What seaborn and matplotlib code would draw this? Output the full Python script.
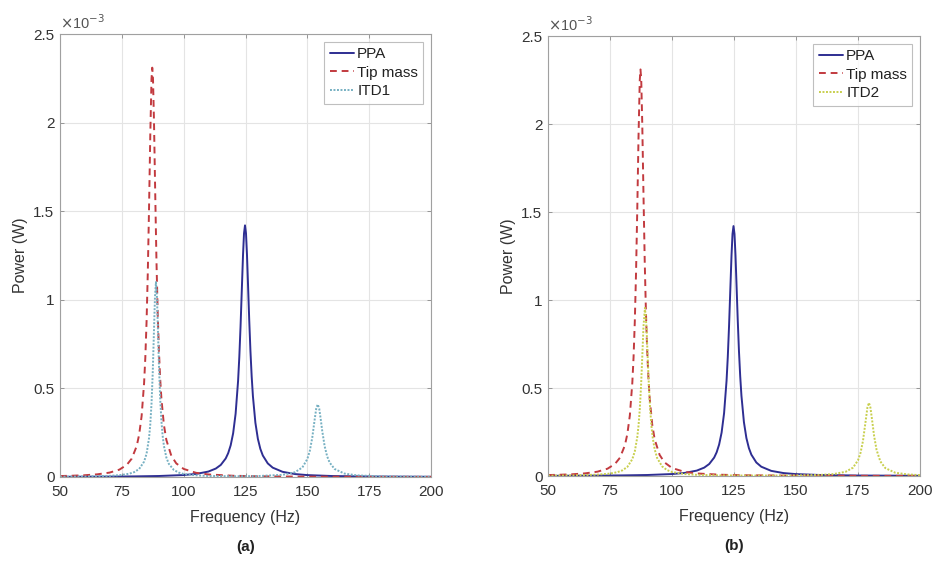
import matplotlib
matplotlib.use("Agg")
import matplotlib.pyplot as plt
import seaborn as sns
import pandas as pd

# ---------------- data (power in units of 1e-3 W) ----------------
tip_freq = [50, 55, 60, 65, 70, 74, 77, 79, 81, 82, 83, 84, 84.5, 85, 85.5, 86, 86.5, 87,
            87.3, 87.6, 88, 88.5, 89, 89.5, 90, 90.5, 91, 92, 93, 95, 97, 100, 105, 110,
            120, 130, 150, 175, 200]
tip_power = [0.0054, 0.0072, 0.0100, 0.0150, 0.0247, 0.0415, 0.0685, 0.1036, 0.174, 0.239,
             0.344, 0.530, 0.675, 0.877, 1.155, 1.518, 1.928, 2.247, 2.31, 2.247, 2.007,
             1.600, 1.221, 0.926, 0.711, 0.555, 0.442, 0.295, 0.209, 0.120, 0.0769, 0.0455,
             0.0236, 0.0144, 0.0070, 0.0041, 0.0019, 0.00097, 0.00059]

ppa_freq = [50, 60, 70, 80, 90, 100, 105, 110, 113, 115, 117, 118, 119, 120, 121, 122, 122.5,
            123, 123.5, 124, 124.4, 124.8, 125.2, 125.6, 126, 126.5, 127, 127.5, 128, 129,
            130, 131, 132, 134, 136, 140, 145, 150, 160, 175, 200]
ppa_power = [0.00123, 0.00164, 0.00228, 0.00342, 0.00565, 0.0111, 0.0173, 0.0307, 0.0477,
             0.0681, 0.1046, 0.1346, 0.1786, 0.2465, 0.357, 0.542, 0.678, 0.851, 1.053, 1.254,
             1.375, 1.42, 1.375, 1.254, 1.094, 0.889, 0.710, 0.567, 0.456, 0.306, 0.2156,
             0.1588, 0.1213, 0.0768, 0.0528, 0.0292, 0.0166, 0.0107, 0.00552, 0.00272, 0.00122]

itd1_freq = [50, 60, 70, 75, 78, 80, 82, 84, 85, 86, 86.5, 87, 87.5, 88, 88.4, 88.8, 89.2,
             89.6, 90, 90.5, 91, 91.5, 92, 93, 94, 96, 98, 100, 105, 110, 120, 130, 140, 145,
             148, 150, 151, 152, 153, 153.6, 154.2, 154.8, 155.4, 156, 157, 158, 159, 161,
             165, 170, 180, 200]
itd1_power = [0.0017, 0.0029, 0.0064, 0.0116, 0.0186, 0.0276, 0.0452, 0.0867, 0.1314, 0.22,
              0.297, 0.415, 0.591, 0.829, 1.017, 1.10, 1.017, 0.829, 0.634, 0.445, 0.317,
              0.233, 0.177, 0.110, 0.0743, 0.0401, 0.0249, 0.0169, 0.0092, 0.0060, 0.0042,
              0.0053, 0.0122, 0.0268, 0.0540, 0.1015, 0.1476, 0.2228, 0.328, 0.386, 0.41,
              0.386, 0.328, 0.2624, 0.1737, 0.1169, 0.082, 0.0454, 0.0193, 0.0093, 0.0035,
              0.0011]

itd2_freq = [50, 60, 70, 75, 78, 80, 82, 84, 85, 86, 86.5, 87, 87.5, 88, 88.5, 89.1, 89.7,
             90.2, 90.7, 91.2, 91.7, 92.2, 93, 94, 96, 98, 100, 105, 110, 120, 130, 140, 150,
             160, 165, 170, 173, 175, 176, 177, 178, 178.8, 179.4, 180, 180.6, 181.5, 182.5,
             184, 186, 190, 195, 200]
itd2_power = [0.0019, 0.0034, 0.0077, 0.0139, 0.0219, 0.0322, 0.0518, 0.0955, 0.140, 0.2208,
              0.286, 0.378, 0.506, 0.673, 0.849, 0.955, 0.849, 0.673, 0.506, 0.378, 0.286,
              0.221, 0.1525, 0.1026, 0.0547, 0.0336, 0.0227, 0.0112, 0.0068, 0.0035, 0.0025,
              0.0025, 0.0032, 0.0064, 0.0108, 0.0239, 0.0476, 0.0893, 0.1306, 0.199, 0.3035,
              0.3895, 0.416, 0.3895, 0.327, 0.2269, 0.1477, 0.0832, 0.0451, 0.0187, 0.0089,
              0.0051]

x_ticks = [50, 75, 100, 125, 150, 175, 200]
y_ticks = [0, 0.5, 1, 1.5, 2, 2.5]
y_ticklabels = ["0", "0.5", "1", "1.5", "2", "2.5"]
panel_labels = ["(a)", "(b)"]
itd_names = ["ITD1", "ITD2"]

# ---------------- style ----------------
sns.set_theme(style="white")
plt.rcParams["font.family"] = ["Liberation Sans", "DejaVu Sans"]

c_ppa = "#2e2e92"
c_tip = "#c23a3f"
c_itd = ["#76b0c2", "#c8cf4e"]

fig = plt.figure(figsize=(9.33, 5.62), dpi=100)
axes_rects = [[60 / 933, 85 / 562, 371 / 933, 443 / 562],
              [548 / 933, 86 / 562, 372 / 933, 440 / 562]]

itd_data = [(itd1_freq, itd1_power), (itd2_freq, itd2_power)]

for i, rect in enumerate(axes_rects):
    ax = fig.add_axes(rect)
    sns.lineplot(x=ppa_freq, y=ppa_power, ax=ax, color=c_ppa, linewidth=1.4,
                 label="PPA", sort=False)
    sns.lineplot(x=tip_freq, y=tip_power, ax=ax, color=c_tip, linewidth=1.4,
                 linestyle=(0, (3.5, 2.5)), label="Tip mass", sort=False)
    fx, fy = itd_data[i]
    sns.lineplot(x=fx, y=fy, ax=ax, color=c_itd[i], linewidth=1.4,
                 linestyle=(0, (1, 0.8)), label=itd_names[i], sort=False)

    ax.set_xlim(50, 200)
    ax.set_ylim(0, 2.5)
    ax.set_xticks(x_ticks)
    ax.set_yticks(y_ticks)
    ax.set_yticklabels(y_ticklabels)
    ax.grid(True, color="#e4e4e4", linewidth=0.8)
    ax.set_axisbelow(True)
    for s in ax.spines.values():
        s.set_color("#a0a0a0")
        s.set_linewidth(0.8)
    ax.tick_params(axis="both", direction="in", length=3, width=0.6, color="#888888",
                   labelsize=11, labelcolor="#333333", top=True, right=True,
                   bottom=True, left=True, labeltop=False, labelright=False)
    ax.tick_params(axis="x", pad=6)
    ax.tick_params(axis="y", pad=4)
    ax.set_xlabel("Frequency (Hz)", fontsize=11.5, color="#333333", labelpad=8)
    ax.set_ylabel("Power (W)", fontsize=11.5, color="#333333", labelpad=4)
    ax.text(0.0, 1.005, r"$\times$10$^{-3}$", transform=ax.transAxes, fontsize=10.5,
            color="#555555", ha="left", va="bottom")
    ax.text(0.5, -0.158, panel_labels[i], transform=ax.transAxes, fontsize=11,
            fontweight="bold", color="#222222", ha="center", va="center")
    leg = ax.legend(loc="upper right", fontsize=11, frameon=True, fancybox=False,
                    handlelength=1.6, handletextpad=0.2, borderpad=0.35, labelspacing=0.3,
                    borderaxespad=0.5)
    leg.get_frame().set_edgecolor("#b0b0b0")
    leg.get_frame().set_linewidth(0.8)
    for t in leg.get_texts():
        t.set_color("#222222")

fig.savefig("out.png", dpi=100)
